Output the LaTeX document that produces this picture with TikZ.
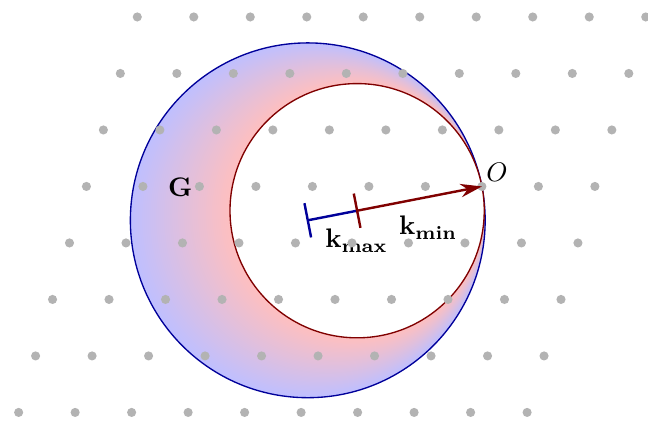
\documentclass[tikz,border=0pt]{standalone}
\usepackage{xcolor}
\usepackage{tikz}
\usetikzlibrary{positioning, arrows.meta, calc}
\definecolor{outerfill}{HTML}{BFBFFF}
\definecolor{innerfill}{HTML}{FFBFBF}
\definecolor{edgeblue}{HTML}{00009A}
\definecolor{edgered}{HTML}{800000}
\definecolor{dotgray}{HTML}{B3B3B3}

\begin{document}
\begin{tikzpicture}[
  x=0.74cm, y=0.74cm,
  outer/.style={draw=edgeblue, line width=0.5pt},
  inner/.style={draw=edgered, line width=0.5pt, fill=white},
  kvec/.style={line width=0.9pt},
  lbl/.style={inner sep=1pt},
]
\useasboundingbox (-8.53,-4.15) rectangle (2.94,3.30);
\coordinate (O)    at (0,0);
\coordinate (Cmax) at ($(O)+(191:3.14)$);
\coordinate (Cmin) at ($(O)+(191:2.25)$);
% shaded crescent between the two spheres
\foreach \t in {0,...,50}{
  \pgfmathsetmacro{\s}{(50-\t)/50}
  \pgfmathsetmacro{\rr}{2.25+0.89*\s}
  \pgfmathtruncatemacro{\p}{2*(50-\t)}
  \fill[outerfill!\p!innerfill] ($(Cmin)!\s!(Cmax)$) circle[radius=\rr];
}
\draw[outer] (Cmax) circle[radius=3.14];
\draw[inner] (Cmin) circle[radius=2.25];
% labels
\node[lbl] (G)    at (-5.34,-0.01) {$\mathbf{G}$};
\node[lbl, above right, inner sep=1.5pt] (Olbl) at (O) {$O$};
\node[lbl] (kmax) at (-2.22,-0.96) {$\mathbf{k_{max}}$};
\node[lbl] (kmin) at (-0.95,-0.73) {$\mathbf{k_{min}}$};
% reciprocal lattice
\foreach \j in {-4,...,3}
  \foreach \i in {-7,...,2}
    \fill[dotgray] ({\i+0.3*\j},\j) circle[radius=1.7pt];
% wave vectors
\draw[kvec, edgeblue] (Cmax) -- (Cmin);
\draw[kvec, edgered, -{Stealth[length=8pt, width=5pt]}] (Cmin) -- (O);
\draw[kvec, edgeblue] ($(Cmax)!6.5pt!90:(O)$) -- ($(Cmax)!6.5pt!-90:(O)$);
\draw[kvec, edgered]  ($(Cmin)!6.5pt!90:(O)$) -- ($(Cmin)!6.5pt!-90:(O)$);
\end{tikzpicture}
\end{document}
